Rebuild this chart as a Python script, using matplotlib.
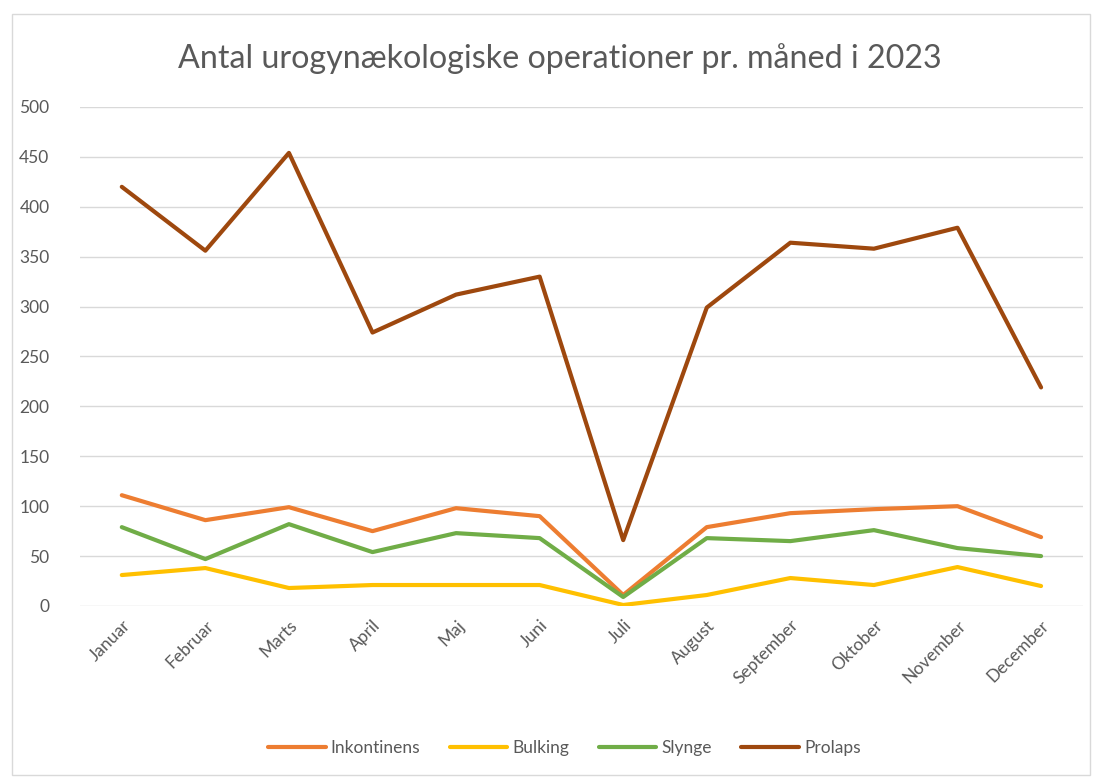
import matplotlib.pyplot as plt
from matplotlib.patches import Rectangle

months = ['Januar', 'Februar', 'Marts', 'April', 'Maj', 'Juni', 'Juli',
          'August', 'September', 'Oktober', 'November', 'December']
inkontinens = [111, 86, 99, 75, 98, 90, 11, 79, 93, 97, 100, 69]
bulking = [31, 38, 18, 21, 21, 21, 1, 11, 28, 21, 39, 20]
slynge = [79, 47, 82, 54, 73, 68, 9, 68, 65, 76, 58, 50]
prolaps = [420, 356, 454, 274, 312, 330, 66, 299, 364, 358, 379, 219]

plt.rcParams['font.family'] = ['Lato', 'DejaVu Sans']
grey = '#595959'

fig = plt.figure(figsize=(10.96, 7.78), dpi=100)
ax = fig.add_axes([0.073, 0.2211, 0.915, 0.6414])

fig.patches.append(Rectangle((12 / 1096, 3 / 778), 1078 / 1096, 761 / 778,
                             transform=fig.transFigure, fill=False,
                             edgecolor='#D9D9D9', linewidth=1))

x = range(len(months))
ax.plot(x, inkontinens, color='#ED7D31', lw=3, label='Inkontinens', solid_capstyle='round')
ax.plot(x, bulking, color='#FFC000', lw=3, label='Bulking', solid_capstyle='round')
ax.plot(x, slynge, color='#70AD47', lw=3, label='Slynge', solid_capstyle='round')
ax.plot(x, prolaps, color='#9E480E', lw=3, label='Prolaps', solid_capstyle='round')

ax.set_xlim(-0.5, len(months) - 0.5)
ax.set_ylim(0, 500)
ax.set_yticks(range(0, 501, 50))
ax.set_xticks(list(x))
ax.set_xticklabels(months, rotation=45, ha='right', rotation_mode='anchor')
ax.tick_params(length=0, labelsize=12.5, colors=grey)
ax.tick_params(axis='y', pad=22)
ax.tick_params(axis='x', pad=8)
ax.grid(axis='y', color='#D9D9D9', lw=1)
ax.set_axisbelow(True)
for s in ax.spines.values():
    s.set_visible(False)

fig.text(0.511, 0.925, 'Antal urogynækologiske operationer pr. måned i 2023',
         ha='center', va='center', fontsize=23.2, color=grey)

fig.legend(loc='center', bbox_to_anchor=(0.515, 0.039), ncol=4, frameon=False,
           fontsize=12.5, labelcolor=grey, handlelength=3.3, handletextpad=0.3,
           columnspacing=1.7)

fig.savefig('out.png', dpi=100)
